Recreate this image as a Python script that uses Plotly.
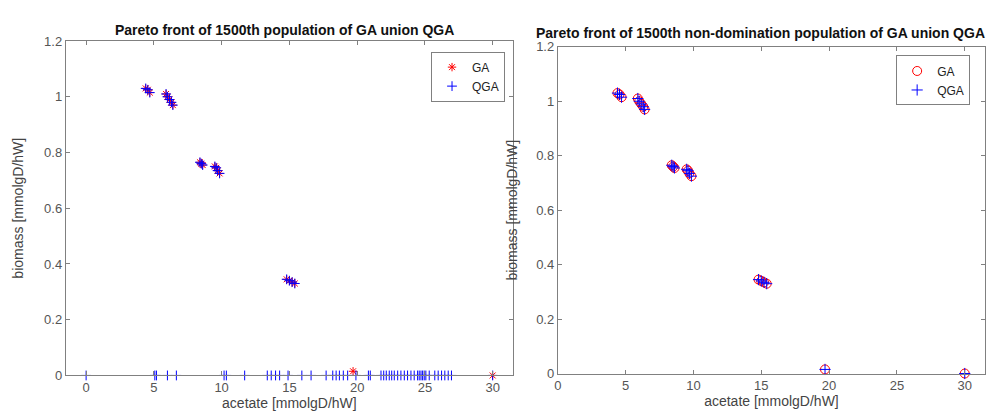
import plotly.graph_objects as go

# ---- data ----
ga_x = [4.4, 4.55, 4.7, 5.9, 6.0, 6.15, 6.3, 6.4, 8.4, 8.5, 8.6, 9.5, 9.6, 9.7, 9.85,
        14.8, 15.0, 15.2, 15.4, 19.7, 30.0]
ga_y = [1.03, 1.025, 1.015, 1.01, 1.0, 0.99, 0.98, 0.97, 0.765, 0.76, 0.755, 0.75, 0.745,
        0.735, 0.725, 0.345, 0.34, 0.335, 0.33, 0.015, 0.0]

qga_front_x = [4.4, 4.55, 4.7, 5.9, 6.0, 6.15, 6.3, 6.4, 8.4, 8.5, 8.6, 9.5, 9.6, 9.7, 9.85,
               14.8, 15.0, 15.2, 15.4]
qga_front_y = [1.03, 1.025, 1.015, 1.01, 1.0, 0.99, 0.98, 0.97, 0.765, 0.76, 0.755, 0.75,
               0.745, 0.735, 0.725, 0.345, 0.34, 0.335, 0.33]

qga_zero_x = [0.0, 5.07, 5.19, 6.0, 6.66, 10.18, 10.35, 11.7, 13.37, 13.66, 13.98, 14.28,
              14.9, 15.92, 16.6, 17.71, 18.2, 18.45, 18.69, 18.98, 19.3, 19.91, 20.83,
              20.97, 21.76, 21.96, 22.15, 22.37, 22.55, 22.74, 22.99, 23.23, 23.48, 23.72,
              23.97, 24.21, 24.46, 24.58, 24.71, 24.83, 24.95, 25.07, 25.32, 25.73, 25.98,
              26.23, 26.47, 26.72, 26.96, 30.0]
qga_zero_y = [0.0] * len(qga_zero_x)

nd_ga_x = ga_x
nd_ga_y = ga_y
nd_qga_x = qga_front_x + [19.7, 30.0]
nd_qga_y = qga_front_y + [0.015, 0.0]

tick_vals_x = [0, 5, 10, 15, 20, 25, 30]
tick_vals_y = [0, 0.2, 0.4, 0.6, 0.8, 1.0, 1.2]
tick_text_y = ["0", "0.2", "0.4", "0.6", "0.8", "1", "1.2"]

RED = "#ff0000"
BLUE = "#0000ff"
FONT = "Liberation Sans, Arial, sans-serif"

fig = go.Figure()

# left panel
fig.add_trace(go.Scatter(x=ga_x, y=ga_y, mode="markers", name="GA",
                         marker=dict(symbol="asterisk-open", size=7, color=RED,
                                     line=dict(color=RED, width=1)),
                         cliponaxis=False, xaxis="x", yaxis="y", legend="legend"))
fig.add_trace(go.Scatter(x=qga_front_x + qga_zero_x, y=qga_front_y + qga_zero_y,
                         mode="markers", name="QGA",
                         marker=dict(symbol="cross-thin-open", size=7, color=BLUE,
                                     line=dict(color=BLUE, width=1)),
                         cliponaxis=False, xaxis="x", yaxis="y", legend="legend"))

# right panel
fig.add_trace(go.Scatter(x=nd_ga_x, y=nd_ga_y, mode="markers", name="GA",
                         marker=dict(symbol="circle-open", size=9, color=RED,
                                     line=dict(color="rgba(235,60,80,0.9)", width=1)),
                         cliponaxis=False, xaxis="x2", yaxis="y2", legend="legend2"))
fig.add_trace(go.Scatter(x=nd_qga_x, y=nd_qga_y, mode="markers", name="QGA",
                         marker=dict(symbol="cross-thin-open", size=8, color=BLUE,
                                     line=dict(color=BLUE, width=1)),
                         cliponaxis=False, xaxis="x2", yaxis="y2", legend="legend2"))

axis_common = dict(showline=True, linecolor="#808080", linewidth=1, mirror="ticks",
                   ticks="inside", ticklen=4, tickcolor="#808080", showgrid=False,
                   zeroline=False, tickfont=dict(size=13, color="#555555", family=FONT),
                   title_font=dict(size=14, color="#444444", family=FONT))

fig.update_layout(
    width=999, height=414, margin=dict(l=0, r=0, t=0, b=0),
    paper_bgcolor="white", plot_bgcolor="white",
    font=dict(family=FONT),
    xaxis=dict(domain=[54/999, 503/999], range=[-1.5, 31.5], tickvals=tick_vals_x,
               anchor="y", title=dict(text="acetate [mmolgD/hW]", standoff=4), **axis_common),
    yaxis=dict(domain=[1-374/414, 1-27/414], range=[0, 1.2], tickvals=tick_vals_y,
               ticktext=tick_text_y, anchor="x",
               title=dict(text="biomass [mmolgD/hW]", standoff=17), **axis_common),
    xaxis2=dict(domain=[548/999, 977/999], range=[0, 31.5], tickvals=tick_vals_x,
                anchor="y2", title=dict(text="acetate [mmolgD/hW]", standoff=4), **axis_common),
    yaxis2=dict(domain=[1-372/414, 1-33/414], range=[0, 1.2], tickvals=tick_vals_y,
                ticktext=tick_text_y, anchor="x2",
                title=dict(text="biomass [mmolgD/hW]", standoff=15), **axis_common),
    legend=dict(x=495/999, y=1-38/414, xanchor="right", yanchor="top",
                bgcolor="white", bordercolor="#808080", borderwidth=1,
                font=dict(size=12, color="#222222", family=FONT), itemwidth=30,
                tracegroupgap=0),
    legend2=dict(x=962/999, y=1-42/414, xanchor="right", yanchor="top",
                 bgcolor="white", bordercolor="#808080", borderwidth=1,
                 font=dict(size=12, color="#222222", family=FONT), itemwidth=30,
                 tracegroupgap=0),
    annotations=[
        dict(text="<b>Pareto front of 1500th population of GA union QGA</b>",
             x=274/999, y=1-16/414, xref="paper", yref="paper", showarrow=False,
             font=dict(size=14, color="#111111", family=FONT), xanchor="center", yanchor="middle"),
        dict(text="<b>Pareto front of 1500th non-domination population of GA union QGA</b>",
             x=752/999, y=1-19/414, xref="paper", yref="paper", showarrow=False,
             font=dict(size=14, color="#111111", family=FONT), xanchor="center", yanchor="middle"),
    ],
)

fig.write_html("out.html")
